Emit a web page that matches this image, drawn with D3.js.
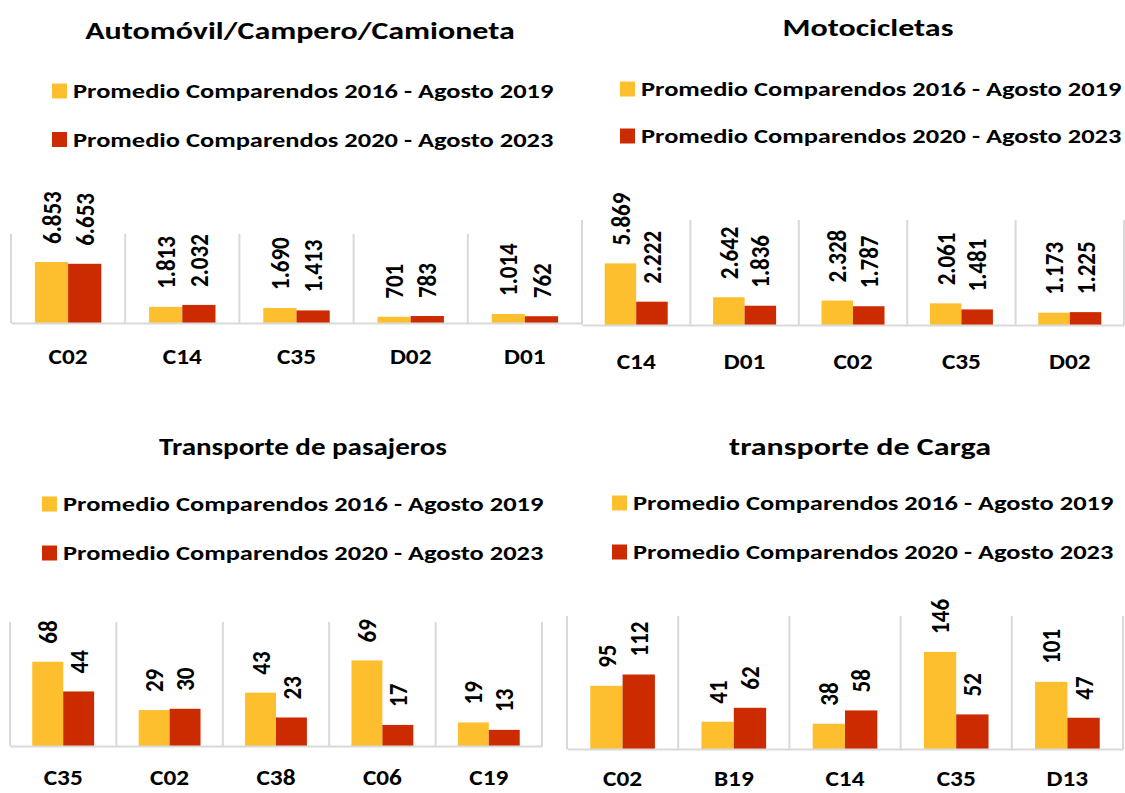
<!DOCTYPE html>
<html lang="es">
<head>
<meta charset="utf-8">
<title>Comparendos</title>
<script src="https://d3js.org/d3.v7.min.js"></script>
<style>
  body { margin: 0; background: #fff; }
  svg text { font-family: Carlito, Lato, sans-serif; font-weight: bold; fill: #000; }
</style>
</head>
<body>
<script>
// data
const seriesNames = ['Promedio Comparendos 2016 - Agosto 2019', 'Promedio Comparendos 2020 - Agosto 2023'];
const seriesColors = ['#FDBF2D', '#CC2B00'];

const autoTitle = 'Automóvil/Campero/Camioneta';
const autoCats = ['C02', 'C14', 'C35', 'D02', 'D01'];
const auto2016 = [6853, 1813, 1690, 701, 1014];
const auto2020 = [6653, 2032, 1413, 783, 762];

const motoTitle = 'Motocicletas';
const motoCats = ['C14', 'D01', 'C02', 'C35', 'D02'];
const moto2016 = [5869, 2642, 2328, 2061, 1173];
const moto2020 = [2222, 1836, 1787, 1481, 1225];

const pasTitle = 'Transporte de pasajeros';
const pasCats = ['C35', 'C02', 'C38', 'C06', 'C19'];
const pas2016 = [68, 29, 43, 69, 19];
const pas2020 = [44, 30, 23, 17, 13];

const cargaTitle = 'transporte de Carga';
const cargaCats = ['C02', 'B19', 'C14', 'C35', 'D13'];
const carga2016 = [95, 41, 38, 146, 101];
const carga2020 = [112, 62, 58, 52, 47];

const W = 1125, H = 793;
const svg = d3.select('body').append('svg')
  .attr('width', W)
  .attr('height', H);

const fmt = d3.formatLocale({decimal: ',', thousands: '.', grouping: [3], currency: ['$', '']}).format(',d');

// layout of each panel
const panels = [
  {title: autoTitle, cats: autoCats, vals: [auto2016, auto2020], yMax: 10000,
   titleX: 300, titleY: 39, titleSx: 1.28, legX: 52, legY: [91, 139.5],
   left: 11, right: 582, top: 234, bottom: 323, labY: 356},
  {title: motoTitle, cats: motoCats, vals: [moto2016, moto2020], yMax: 10000,
   titleX: 868, titleY: 36, titleSx: 1.28, legX: 620, legY: [89, 136],
   left: 582, right: 1124, top: 220, bottom: 325, labY: 361},
  {title: pasTitle, cats: pasCats, vals: [pas2016, pas2020], yMax: 100,
   titleX: 303, titleY: 455, titleSx: 1.16, legX: 42, legY: [504, 553],
   left: 10, right: 542, top: 622, bottom: 746, labY: 777},
  {title: cargaTitle, cats: cargaCats, vals: [carga2016, carga2020], yMax: 200,
   titleX: 860, titleY: 455, titleSx: 1.28, legX: 612, legY: [503, 552],
   left: 567, right: 1123, top: 616, bottom: 749, labY: 778}
];

panels.forEach(p => drawPanel(p));

function drawPanel(p) {
  const g = svg.append('g');

  // text in the picture is a bit wider than the font, so stretch it
  g.append('text')
    .attr('transform', 'translate(' + p.titleX + ',' + p.titleY + ') scale(' + p.titleSx + ',1)')
    .attr('text-anchor', 'middle')
    .style('font-size', '25px')
    .text(p.title);

  // legend
  seriesNames.forEach((name, i) => {
    g.append('rect')
      .attr('x', p.legX)
      .attr('y', p.legY[i] - 7.5)
      .attr('width', 15)
      .attr('height', 15)
      .attr('fill', seriesColors[i]);
    g.append('text')
      .attr('transform', 'translate(' + (p.legX + 21) + ',' + p.legY[i] + ') scale(1.29,1)')
      .attr('dy', '0.36em')
      .style('font-size', '20.5px')
      .text(name);
  });

  const x0 = d3.scaleBand()
    .domain(p.cats)
    .range([p.left, p.right]);
  const x1 = d3.scaleBand()
    .domain([0, 1])
    .range([0, x0.bandwidth()])
    .paddingInner(0)
    .paddingOuter(0.72);
  const y = d3.scaleLinear()
    .domain([0, p.yMax])
    .range([p.bottom, p.top]);

  // vertical separators
  const bounds = p.cats.map(c => x0(c)).concat([p.right]);
  g.selectAll('line.sep')
    .data(bounds)
    .enter()
    .append('line')
    .attr('class', 'sep')
    .attr('x1', d => d)
    .attr('x2', d => d)
    .attr('y1', p.top)
    .attr('y2', p.bottom)
    .attr('stroke', '#d9d9d9')
    .attr('stroke-width', 2);

  const rows = [];
  p.cats.forEach((c, ci) => {
    p.vals.forEach((s, si) => rows.push({cat: c, s: si, v: s[ci]}));
  });

  g.selectAll('rect.bar')
    .data(rows)
    .enter()
    .append('rect')
    .attr('class', 'bar')
    .attr('x', d => x0(d.cat) + x1(d.s))
    .attr('y', d => y(d.v))
    .attr('width', x1.bandwidth())
    .attr('height', d => y(0) - y(d.v))
    .attr('fill', d => seriesColors[d.s]);

  g.selectAll('text.val')
    .data(rows)
    .enter()
    .append('text')
    .attr('class', 'val')
    .attr('transform', d => 'translate(' + (x0(d.cat) + x1(d.s) + x1.bandwidth() / 2) + ',' + (y(d.v) - 18) + ') rotate(-90) scale(1,1.1)')
    .attr('dy', '0.36em')
    .style('font-size', '23px')
    .text(d => fmt(d.v));

  // axis line
  const xAxis = d3.axisBottom(x0).tickSize(0).tickPadding(0);
  const ax = g.append('g')
    .attr('transform', 'translate(0,' + p.bottom + ')')
    .call(xAxis);
  ax.select('.domain').attr('stroke', '#d9d9d9').attr('stroke-width', 2);
  ax.selectAll('.tick text')
    .attr('y', p.labY - p.bottom)
    .attr('dy', '0.35em')
    .style('font-size', '23px')
    .style('font-family', null)
    .attr('fill', '#000')
    .attr('transform', 'scale(1.1,1)');
}
</script>
</body>
</html>
